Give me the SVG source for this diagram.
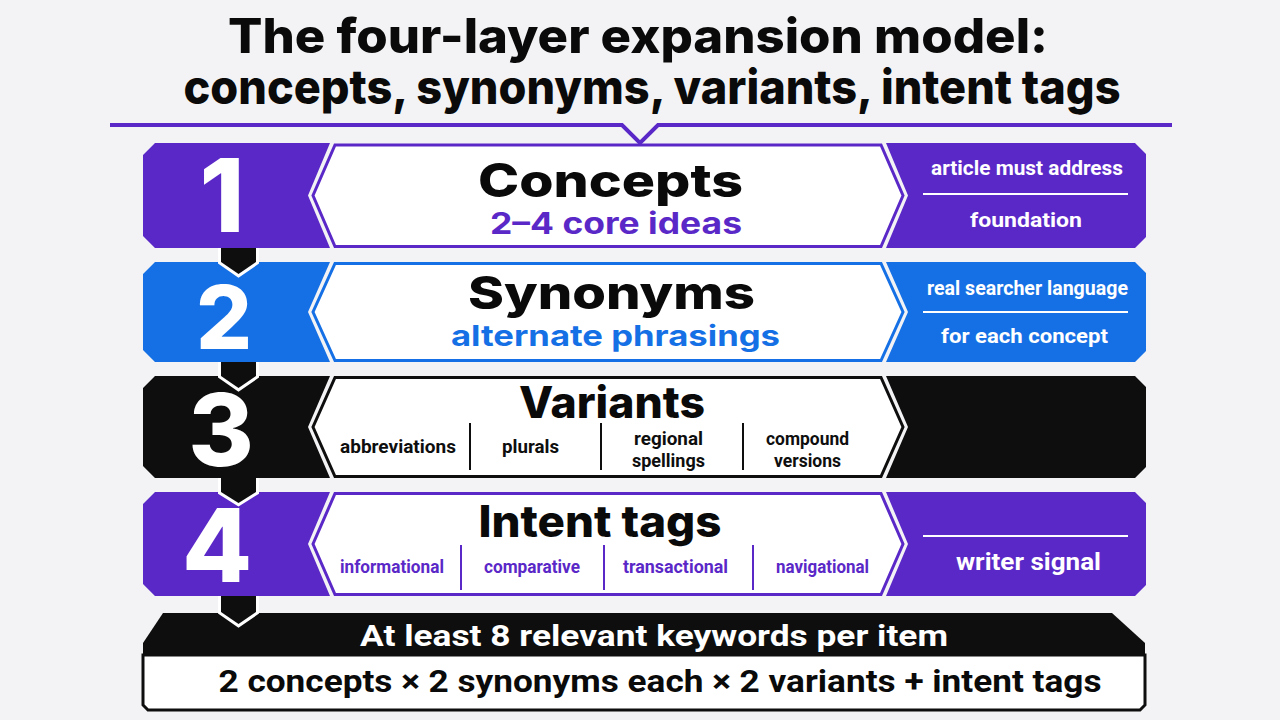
<svg xmlns="http://www.w3.org/2000/svg" width="1280" height="720" viewBox="0 0 1280 720">
<style>
.bg{fill:#f3f3f5}
.pur{fill:#5b28c8}
.blu{fill:#1670e5}
.blk{fill:#0e0e0e}
.box{fill:#ffffff;stroke-width:3;stroke-linejoin:miter}
.title{font-family:Inter,Roboto,"Liberation Sans",sans-serif;font-weight:800;font-size:48px;fill:#0a0a0a;text-anchor:middle}
.num{font-family:Inter,Roboto,"Liberation Sans",sans-serif;font-weight:800;fill:#ffffff;text-anchor:middle}
.head{font-family:Inter,Roboto,"Liberation Sans",sans-serif;font-weight:800;font-size:46px;fill:#0a0a0a;text-anchor:middle}
.sub{font-family:Inter,Roboto,"Liberation Sans",sans-serif;font-weight:700;font-size:30px;text-anchor:middle}
.item{font-family:Roboto,"Liberation Sans",sans-serif;font-weight:700;font-size:19px;text-anchor:middle}
.item2{font-family:Roboto,"Liberation Sans",sans-serif;font-weight:700;font-size:18px;text-anchor:middle}
.side{font-family:Roboto,"Liberation Sans",sans-serif;font-weight:700;font-size:20px;fill:#ffffff;text-anchor:middle}
.sep{stroke-width:2}
.wl{stroke:#ffffff;stroke-width:2}
.tab{fill:#0e0e0e;stroke:#ffffff;stroke-width:6;paint-order:stroke;stroke-linejoin:miter}
</style>
<rect class="bg" x="0" y="0" width="1280" height="720"/>

<g id="title">
<text class="title" x="638" y="53" textLength="820" lengthAdjust="spacingAndGlyphs">The four-layer expansion model:</text>
<text class="title" x="652" y="104" textLength="937" lengthAdjust="spacingAndGlyphs">concepts, synonyms, variants, intent tags</text>
<polyline points="110,125 622,125 640,143 658,125 1172,125" fill="none" stroke="#5b28c8" stroke-width="4"/>
</g>

<g id="layer1">
<polygon class="pur" points="155,143 330,143 308,195.5 330,248 155,248 143,236 143,155"/>
<text class="num" x="222" y="232" style="font-size:102px">1</text>
<polygon class="box" stroke="#5b28c8" points="335,145 881,145 903,195.5 881,246.5 335,246.5 313,195.5"/>
<text class="head" x="610.5" y="197" textLength="265" lengthAdjust="spacingAndGlyphs">Concepts</text>
<text class="sub" x="616" y="234" fill="#5b28c8" textLength="252" lengthAdjust="spacingAndGlyphs">2–4 core ideas</text>
<polygon class="pur" points="886,143 1135,143 1146,154 1146,237 1135,248 886,248 908,195.5"/>
<text class="side" x="1027" y="175" textLength="192" lengthAdjust="spacingAndGlyphs">article must address</text>
<line class="wl" x1="923" y1="194" x2="1128" y2="194"/>
<text class="side" x="1026" y="227" textLength="112" lengthAdjust="spacingAndGlyphs">foundation</text>
</g>

<g id="layer2">
<polygon class="blu" points="155,262 330,262 308,312 330,362 155,362 143,350 143,274"/>
<text class="num" x="224" y="349" style="font-size:88px">2</text>
<polygon class="box" stroke="#1670e5" points="335,263.5 881,263.5 903,312 881,360.5 335,360.5 313,312"/>
<text class="head" x="611.5" y="309" style="font-size:45px" textLength="287" lengthAdjust="spacingAndGlyphs">Synonyms</text>
<text class="sub" x="615.5" y="346" fill="#1670e5" style="font-size:29px" textLength="329" lengthAdjust="spacingAndGlyphs">alternate phrasings</text>
<polygon class="blu" points="886,262 1135,262 1146,273 1146,351 1135,362 886,362 908,312"/>
<text class="side" x="1027.5" y="295" textLength="201" lengthAdjust="spacingAndGlyphs">real searcher language</text>
<line class="wl" x1="923" y1="312" x2="1128" y2="312"/>
<text class="side" x="1024.5" y="343" textLength="167" lengthAdjust="spacingAndGlyphs">for each concept</text>
</g>

<g id="layer3">
<polygon class="blk" points="155,376 330,376 308,427 330,478 155,478 143,466 143,388"/>
<text class="num" x="221" y="466" style="font-size:100px">3</text>
<polygon class="box" stroke="#0e0e0e" points="335,377.5 881,377.5 903,427 881,476.5 335,476.5 313,427"/>
<text class="head" x="612" y="418" style="font-size:44px" textLength="186" lengthAdjust="spacingAndGlyphs">Variants</text>
<text class="item" x="398" y="453" fill="#0e0e0e" textLength="116" lengthAdjust="spacingAndGlyphs">abbreviations</text>
<line class="sep" stroke="#0e0e0e" x1="470" y1="423" x2="470" y2="470"/>
<text class="item" x="530.5" y="453" fill="#0e0e0e" textLength="57" lengthAdjust="spacingAndGlyphs">plurals</text>
<line class="sep" stroke="#0e0e0e" x1="601" y1="423" x2="601" y2="470"/>
<text class="item2" x="668.5" y="445" fill="#0e0e0e" textLength="69" lengthAdjust="spacingAndGlyphs">regional</text>
<text class="item2" x="668.5" y="467" fill="#0e0e0e" textLength="73" lengthAdjust="spacingAndGlyphs">spellings</text>
<line class="sep" stroke="#0e0e0e" x1="743" y1="423" x2="743" y2="470"/>
<text class="item2" x="807.5" y="445" fill="#0e0e0e" textLength="83" lengthAdjust="spacingAndGlyphs">compound</text>
<text class="item2" x="807.5" y="467" fill="#0e0e0e" textLength="67" lengthAdjust="spacingAndGlyphs">versions</text>
<polygon class="blk" points="886,376 1135,376 1146,387 1146,467 1135,478 886,478 908,427"/>
</g>

<g id="layer4">
<polygon class="pur" points="155,492 330,492 308,544 330,596 155,596 143,584 143,504"/>
<text class="num" x="217" y="582" style="font-size:102px">4</text>
<polygon class="box" stroke="#5b28c8" points="335,493.5 881,493.5 903,544 881,594.5 335,594.5 313,544"/>
<text class="head" x="600" y="537" style="font-size:44px" textLength="243" lengthAdjust="spacingAndGlyphs">Intent tags</text>
<text class="item" x="392" y="573" fill="#5b28c8" textLength="104" lengthAdjust="spacingAndGlyphs">informational</text>
<line class="sep" stroke="#5b28c8" x1="461" y1="545" x2="461" y2="590"/>
<text class="item" x="532" y="573" fill="#5b28c8" textLength="96" lengthAdjust="spacingAndGlyphs">comparative</text>
<line class="sep" stroke="#5b28c8" x1="604" y1="545" x2="604" y2="590"/>
<text class="item" x="675.5" y="573" fill="#5b28c8" textLength="105" lengthAdjust="spacingAndGlyphs">transactional</text>
<line class="sep" stroke="#5b28c8" x1="753" y1="545" x2="753" y2="590"/>
<text class="item" x="822.5" y="573" fill="#5b28c8" textLength="93" lengthAdjust="spacingAndGlyphs">navigational</text>
<polygon class="pur" points="886,492 1135,492 1146,503 1146,585 1135,596 886,596 908,544"/>
<line class="wl" x1="923" y1="536" x2="1128" y2="536"/>
<text class="side" x="1028.5" y="570" style="font-size:23px" textLength="145" lengthAdjust="spacingAndGlyphs">writer signal</text>
</g>

<g id="summary">
<polygon class="blk" points="163,613 1112,613 1145,643 1145,656 143,656 143,643"/>
<polygon fill="#ffffff" stroke="#0e0e0e" stroke-width="3" points="143,655 1145,655 1145,705 1140,710 148,710 143,705"/>
<text class="side" x="654" y="646" style="font-size:30px" textLength="588" lengthAdjust="spacingAndGlyphs">At least 8 relevant keywords per item</text>
<text x="660" y="692" font-family="Roboto, 'Liberation Sans', sans-serif" font-weight="700" font-size="31" fill="#0a0a0a" text-anchor="middle" textLength="883" lengthAdjust="spacingAndGlyphs">2 concepts × 2 synonyms each × 2 variants + intent tags</text>
</g>

<g id="connectors">
<path class="tab" d="M221,248 V262 L238.5,274 L256,262 V248"/>
<path class="tab" d="M221,362 V376 L238.5,388 L256,376 V362"/>
<path class="tab" d="M221,478 V492 L238.5,503 L256,492 V478"/>
<path class="tab" d="M221,596 V612 L238.5,624 L256,612 V596"/>
</g>
</svg>
